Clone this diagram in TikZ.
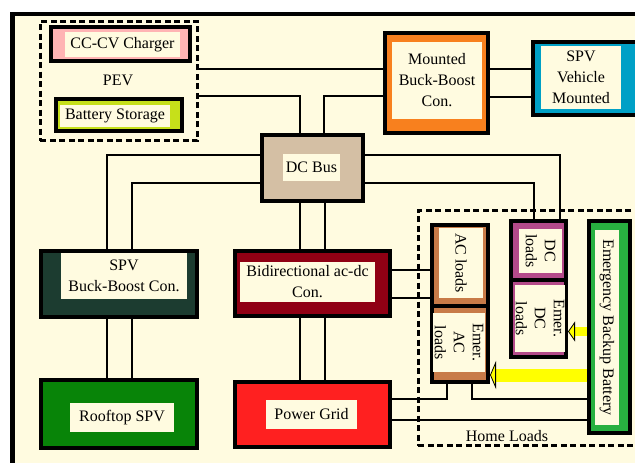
\documentclass[tikz,border=0pt]{standalone}
\usepackage{fontspec}
\setmainfont{Liberation Serif}
\usepackage{tikz}
\usetikzlibrary{arrows.meta,positioning,calc}
\definecolor{cream}{HTML}{FFFBE0}
\definecolor{chargerpink}{HTML}{FFB4B4}
\definecolor{storelime}{HTML}{C6E01A}
\definecolor{bustan}{HTML}{D4BFA4}
\definecolor{convorange}{HTML}{F8801E}
\definecolor{vehblue}{HTML}{00A0C6}
\definecolor{bbdark}{HTML}{1C3C30}
\definecolor{roofgreen}{HTML}{088408}
\definecolor{bidirred}{HTML}{900014}
\definecolor{gridred}{HTML}{FF2020}
\definecolor{acbrown}{HTML}{C87B48}
\definecolor{dcpurple}{HTML}{B44A8A}
\definecolor{battgreen}{HTML}{28B040}
\definecolor{feedyellow}{HTML}{FFFF00}
\tikzset{
  unitbox/.style={draw=black,line width=4pt,fill=#1,inner sep=0pt},
  unitlabel/.style={fill=cream,inner sep=0pt,align=center,text=black,font=\fontsize{16}{21}\selectfont},
  loadlabel/.style={unitlabel,rotate=-90,font=\fontsize{16}{19}\selectfont},
  groupbox/.style={draw=black,line width=2.6pt,dash pattern=on 6pt off 3.5pt,inner sep=0pt},
  busline/.style={line width=1.8pt},
  bigfeed/.style={draw=feedyellow,line width=13pt,-{Triangle[length=6pt,width=28pt,color=black,fill=feedyellow,line width=0.8pt]}},
  smallfeed/.style={draw=feedyellow,line width=9pt,-{Triangle[length=7pt,width=20pt,color=black,fill=feedyellow,line width=0.8pt]}}
}
\begin{document}
\begin{tikzpicture}[x=1pt,y=-1pt]
  \useasboundingbox (0,0) rectangle (635,463);
  \clip (0,0) rectangle (635,463);
  % frame
  \fill[cream] (12,14) rectangle (660,480);
  \draw[line width=4.5pt] (660,14) -- (12.5,14) -- (12.5,480);
  % groups
  \node[groupbox,minimum width=157.4pt,minimum height=119.4pt] (pev) at (119,81) {};
  \node[font=\fontsize{16}{21}\selectfont] (pevlbl) at (118,80) {PEV};
  \node[groupbox,minimum width=240.4pt,minimum height=235.4pt] (homeloads) at (538.5,328) {};
  \node[font=\fontsize{16}{21}\selectfont] (homelbl) at (507,436) {Home Loads};
  % units
  \node[unitbox=chargerpink,minimum width=139pt,minimum height=34pt] (charger) at (120.5,44) {};
  \node[unitlabel,minimum width=115pt,minimum height=25pt] (chargertxt) at (122.5,44.5) {CC-CV Charger};
  \node[unitbox=storelime,minimum width=126pt,minimum height=32pt] (store) at (119,115) {};
  \node[unitlabel,minimum width=110pt,minimum height=22pt] (storetxt) at (115,116) {Battery Storage};
  \node[unitbox=bustan,minimum width=101pt,minimum height=66pt] (dcbus) at (312.5,168) {};
  \node[unitlabel,minimum width=57pt,minimum height=27pt] (dcbustxt) at (311.5,167.5) {DC Bus};
  \node[unitbox=convorange,minimum width=103pt,minimum height=100pt] (mounted) at (436.5,83) {};
  \node[unitlabel,minimum width=90pt,minimum height=77pt] (mountedtxt) at (437,80.5) {Mounted\\Buck-Boost\\Con.};
  \node[unitbox=vehblue,minimum width=120pt,minimum height=73pt] (spvveh) at (593,78.5) {};
  \node[unitlabel,minimum width=80pt,minimum height=63pt] (spvvehtxt) at (581,77.5) {SPV\\Vehicle\\Mounted};
  \node[unitbox=bbdark,minimum width=156pt,minimum height=66pt] (spvbb) at (119,284) {};
  \node[unitlabel,minimum width=126pt,minimum height=46pt] (spvbbtxt) at (124,276) {SPV\\Buck-Boost Con.};
  \node[unitbox=roofgreen,minimum width=156pt,minimum height=68pt] (roof) at (119,414) {};
  \node[unitlabel,minimum width=104pt,minimum height=29pt] (rooftxt) at (122,417.5) {Rooftop SPV};
  \node[unitbox=bidirred,minimum width=155pt,minimum height=65pt] (bidir) at (312.5,283.5) {};
  \node[unitlabel,minimum width=135pt,minimum height=40pt] (bidirtxt) at (307.5,282) {Bidirectional ac-dc\\Con.};
  \node[unitbox=gridred,minimum width=155pt,minimum height=65pt] (grid) at (312.5,414.5) {};
  \node[unitlabel,minimum width=91pt,minimum height=29pt] (gridtxt) at (311.5,414.5) {Power Grid};
  \node[unitbox=acbrown,minimum width=56pt,minimum height=81pt] (acl) at (460,265.5) {};
  \node[loadlabel,minimum width=70pt,minimum height=44pt] (acltxt) at (461,263) {AC loads};
  \node[unitbox=acbrown,minimum width=56pt,minimum height=76pt] (acem) at (460,344) {};
  \node[loadlabel,minimum width=59pt,minimum height=52pt] (acemtxt) at (459,342.5) {Emer.\\AC\\loads};
  \node[unitbox=dcpurple,minimum width=55pt,minimum height=59pt] (dcl) at (538.5,250.5) {};
  \node[loadlabel,minimum width=44pt,minimum height=43pt] (dcltxt) at (540.5,251) {DC\\loads};
  \node[unitbox=dcpurple,minimum width=55pt,minimum height=77pt] (dcem) at (538.5,318.5) {};
  \node[loadlabel,minimum width=67pt,minimum height=50pt] (dcemtxt) at (540,318.5) {Emer.\\DC\\loads};
  \node[unitbox=battgreen,minimum width=41pt,minimum height=212pt] (batt) at (609.5,327) {};
  \node[loadlabel,minimum width=195pt,minimum height=24pt] (batttxt) at (607,327.5) {Emergency Backup Battery};
  % buses
  \draw[busline] (pev.east |- 0,69) -- (mounted.west |- 0,69);
  \draw[busline] (pev.east |- 0,96) -| (dcbus.north -| 300,0);
  \draw[busline] (mounted.west |- 0,96) -| (dcbus.north -| 324,0);
  \draw[busline] (mounted.east |- 0,69) -- (spvveh.west |- 0,69);
  \draw[busline] (mounted.east |- 0,97) -- (spvveh.west |- 0,97);
  \draw[busline] (dcbus.west |- 0,155) -| (spvbb.north -| 107,0);
  \draw[busline] (dcbus.west |- 0,183) -| (spvbb.north -| 132,0);
  \draw[busline] (spvbb.south -| 107,0) -- (roof.north -| 107,0);
  \draw[busline] (spvbb.south -| 132,0) -- (roof.north -| 132,0);
  \draw[busline] (dcbus.east |- 0,155) -| (dcl.north -| 560,0);
  \draw[busline] (dcbus.east |- 0,183) -| (dcl.north -| 534,0);
  \draw[busline] (dcbus.south -| 300,0) -- (bidir.north -| 300,0);
  \draw[busline] (dcbus.south -| 325,0) -- (bidir.north -| 325,0);
  \draw[busline] (bidir.south -| 300,0) -- (grid.north -| 300,0);
  \draw[busline] (bidir.south -| 325,0) -- (grid.north -| 325,0);
  \draw[busline] (bidir.east |- 0,270) -- (acl.west |- 0,270);
  \draw[busline] (bidir.east |- 0,298) -- (acl.west |- 0,298);
  \draw[busline] (grid.east |- 0,399) -| (acem.south -| 447,0);
  \draw[busline] (batt.west |- 0,399) -| (acem.south -| 472,0);
  \draw[busline] (grid.east |- 0,420) -- (batt.west |- 0,420);
  % emergency feeds
  \draw[bigfeed] (batt.west |- 0,375) -- (acem.east |- 0,375);
  \draw[smallfeed] (batt.west |- 0,331.5) -- (dcem.east |- 0,331.5);
\end{tikzpicture}
\end{document}
